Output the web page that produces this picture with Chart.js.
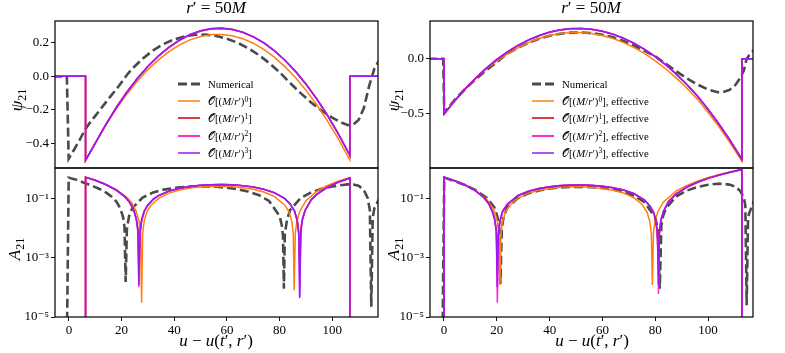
<!DOCTYPE html>
<html lang="en">
<head>
<meta charset="UTF-8">
<title>psi21 / A21 at r' = 50M</title>
<script src="https://cdn.jsdelivr.net/npm/chart.js"></script>
<style>
    body { margin: 0; background: #fff; color: #000; font-family: 'Liberation Serif', 'DejaVu Serif', serif; }
    #wrap { position: relative; width: 785px; height: 353px; overflow: hidden; }
    canvas { position: absolute; }
    .lbl { position: absolute; white-space: nowrap; transform: translate(-50%, -50%); font-size: 17px; }
    .ylab { transform: translate(-50%, -50%) rotate(-90deg); }
    .legend { position: absolute; font-size: 10.8px; }
    .row { position: absolute; left: 0; height: 14px; white-space: nowrap; }
    .row svg { position: absolute; left: 0; top: 4px; }
    .row span { position: absolute; left: 30px; top: 0; line-height: 14px; }
    .cal { font-family: 'DejaVu Serif', 'DejaVu Sans', serif; font-style: normal; }
    sup { font-size: 70%; vertical-align: 0; position: relative; top: -0.45em; }
    sub { font-size: 70%; vertical-align: 0; position: relative; top: 0.3em; }
</style>
</head>
<body>
<div id="wrap">
    <canvas id="psiL" width="385" height="170" style="left:0;top:0"></canvas>
    <canvas id="ampL" width="385" height="193" style="left:0;top:160px"></canvas>
    <canvas id="psiR" width="400" height="170" style="left:385px;top:0"></canvas>
    <canvas id="ampR" width="400" height="193" style="left:385px;top:160px"></canvas>

    <div class="lbl" style="left:216px;top:8px"><i>r</i>′ = 50<i>M</i></div>
    <div class="lbl" style="left:591px;top:8px"><i>r</i>′ = 50<i>M</i></div>
    <div class="lbl" style="left:216px;top:341px"><i>u</i> − <i>u</i>(<i>t</i>′, <i>r</i>′)</div>
    <div class="lbl" style="left:592px;top:341px"><i>u</i> − <i>u</i>(<i>t</i>′, <i>r</i>′)</div>
    <div class="lbl ylab" style="left:17px;top:100px"><i>ψ</i><sub>21</sub></div>
    <div class="lbl ylab" style="left:394px;top:100px"><i>ψ</i><sub>21</sub></div>
    <div class="lbl ylab" style="left:15px;top:249px"><i>A</i><sub>21</sub></div>
    <div class="lbl ylab" style="left:394px;top:249px"><i>A</i><sub>21</sub></div>

    <div class="legend" style="left:178px;top:77px">
        <div class="row" style="top:0"><svg width="24" height="6"><line x1="0" y1="3" x2="22" y2="3" stroke="#4a4a4a" stroke-width="2.8" stroke-dasharray="9 4"/></svg><span>Numerical</span></div>
        <div class="row" style="top:17.2px"><svg width="24" height="6"><line x1="0" y1="3" x2="22" y2="3" stroke="#ff7f0e" stroke-width="1.5"/></svg><span><span class="cal" style="position:static">𝒪</span>[(<i>M</i>/<i>r</i>′)<sup>0</sup>]</span></div>
        <div class="row" style="top:34.4px"><svg width="24" height="6"><line x1="0" y1="3" x2="22" y2="3" stroke="#c80000" stroke-width="1.5"/></svg><span><span class="cal" style="position:static">𝒪</span>[(<i>M</i>/<i>r</i>′)<sup>1</sup>]</span></div>
        <div class="row" style="top:51.6px"><svg width="24" height="6"><line x1="0" y1="3" x2="22" y2="3" stroke="#ff2ad0" stroke-width="2"/></svg><span><span class="cal" style="position:static">𝒪</span>[(<i>M</i>/<i>r</i>′)<sup>2</sup>]</span></div>
        <div class="row" style="top:68.8px"><svg width="24" height="6"><line x1="0" y1="3" x2="22" y2="3" stroke="#9b19f0" stroke-width="1.5"/></svg><span><span class="cal" style="position:static">𝒪</span>[(<i>M</i>/<i>r</i>′)<sup>3</sup>]</span></div>
    </div>
    <div class="legend" style="left:532px;top:77px">
        <div class="row" style="top:0"><svg width="24" height="6"><line x1="0" y1="3" x2="22" y2="3" stroke="#4a4a4a" stroke-width="2.8" stroke-dasharray="9 4"/></svg><span>Numerical</span></div>
        <div class="row" style="top:17.2px"><svg width="24" height="6"><line x1="0" y1="3" x2="22" y2="3" stroke="#ff7f0e" stroke-width="1.5"/></svg><span><span class="cal" style="position:static">𝒪</span>[(<i>M</i>/<i>r</i>′)<sup>0</sup>], effective</span></div>
        <div class="row" style="top:34.4px"><svg width="24" height="6"><line x1="0" y1="3" x2="22" y2="3" stroke="#c80000" stroke-width="1.5"/></svg><span><span class="cal" style="position:static">𝒪</span>[(<i>M</i>/<i>r</i>′)<sup>1</sup>], effective</span></div>
        <div class="row" style="top:51.6px"><svg width="24" height="6"><line x1="0" y1="3" x2="22" y2="3" stroke="#ff2ad0" stroke-width="2"/></svg><span><span class="cal" style="position:static">𝒪</span>[(<i>M</i>/<i>r</i>′)<sup>2</sup>], effective</span></div>
        <div class="row" style="top:68.8px"><svg width="24" height="6"><line x1="0" y1="3" x2="22" y2="3" stroke="#9b19f0" stroke-width="1.5"/></svg><span><span class="cal" style="position:static">𝒪</span>[(<i>M</i>/<i>r</i>′)<sup>3</sup>], effective</span></div>
    </div>
</div>

<script>
    // ---- axis ticks ----
    const uTicks = [0, 20, 40, 60, 80, 100];
    const psiTicksL = [-0.4, -0.2, 0, 0.2];
    const psiTickLabelsL = ['−0.4', '−0.2', '0.0', '0.2'];
    const psiTicksR = [-0.5, 0];
    const psiTickLabelsR = ['−0.5', '0.0'];
    const ampTicks = [1e-5, 1e-3, 1e-1];
    const ampTickLabels = ['10⁻⁵', '10⁻³', '10⁻¹'];

    // ---- left column: O[(M/r')^n] ----
    const uNumPsiL = [-6, -0.8, -0.1, 2, 4, 6, 8, 10, 12, 14, 16, 18, 20, 22, 24, 28, 32, 36, 40, 44, 48, 52, 56, 60, 64, 68, 72, 76, 80, 84, 88, 92, 96, 100, 103, 106, 108, 110, 112, 114, 116, 118];
    const psiNumL = [0, 0, -0.49, -0.435, -0.38, -0.32, -0.275, -0.235, -0.195, -0.155, -0.115, -0.077, -0.035, 0.008, 0.045, 0.105, 0.155, 0.193, 0.220, 0.238, 0.247, 0.248, 0.240, 0.224, 0.200, 0.168, 0.128, 0.080, 0.025, -0.040, -0.100, -0.155, -0.205, -0.245, -0.272, -0.290, -0.287, -0.260, -0.190, -0.060, 0.045, 0.100];

    const uAnaPsiL = [-6, 6.3, 6.3, 10, 14, 18, 22, 26, 30, 34, 38, 42, 46, 50, 54, 58, 62, 66, 70, 74, 78, 82, 86, 90, 94, 98, 102, 106.7, 106.7, 118];
    const psiO0L = [0, 0, -0.50, -0.396, -0.289, -0.193, -0.106, -0.028, 0.040, 0.098, 0.147, 0.187, 0.217, 0.237, 0.248, 0.249, 0.241, 0.224, 0.197, 0.160, 0.114, 0.058, -0.007, -0.082, -0.166, -0.260, -0.363, -0.496, 0, 0];
    const psiO1L = [0, 0, -0.50, -0.398, -0.288, -0.186, -0.095, -0.013, 0.058, 0.120, 0.172, 0.214, 0.247, 0.269, 0.282, 0.285, 0.279, 0.262, 0.235, 0.199, 0.152, 0.096, 0.030, -0.046, -0.132, -0.227, -0.334, -0.470, 0, 0];
    const psiO2L = [0, 0, -0.50, -0.397, -0.287, -0.185, -0.094, -0.012, 0.059, 0.121, 0.173, 0.215, 0.248, 0.270, 0.283, 0.286, 0.279, 0.262, 0.235, 0.199, 0.152, 0.096, 0.030, -0.046, -0.132, -0.227, -0.333, -0.469, 0, 0];
    const psiO3L = [0, 0, -0.50, -0.397, -0.286, -0.184, -0.093, -0.011, 0.060, 0.122, 0.174, 0.216, 0.249, 0.271, 0.284, 0.287, 0.280, 0.263, 0.236, 0.200, 0.153, 0.097, 0.031, -0.045, -0.131, -0.226, -0.332, -0.468, 0, 0];

    const uNumAmpL = [-0.8, -0.1, 2, 4, 6, 8, 10, 12, 14, 16, 18, 19.5, 20.5, 21.1, 21.55, 22, 22.8, 24, 28, 32, 36, 40, 44, 48, 52, 56, 60, 64, 68, 72, 76, 80, 80.8, 81.3, 81.65, 82, 82.8, 84, 88, 92, 96, 100, 103, 106, 108, 110, 112, 113.5, 114.3, 114.85, 115.4, 116, 118];
    const ampNumL = [1e-6, 0.49, 0.435, 0.38, 0.32, 0.275, 0.235, 0.195, 0.155, 0.115, 0.077, 0.045, 0.024, 0.011, 1.5e-4, 0.009, 0.024, 0.045, 0.105, 0.155, 0.193, 0.220, 0.238, 0.247, 0.248, 0.240, 0.224, 0.200, 0.168, 0.128, 0.080, 0.025, 0.013, 0.0055, 9e-5, 0.006, 0.018, 0.040, 0.100, 0.155, 0.205, 0.245, 0.272, 0.290, 0.287, 0.260, 0.190, 0.100, 0.040, 2.2e-5, 0.022, 0.045, 0.100];

    const uO0AmpL = [6.3, 6.3, 10, 14, 18, 22, 24, 25.6, 26.6, 27.2, 27.6, 28, 28.6, 29.6, 31, 34, 38, 42, 46, 50, 54, 58, 62, 66, 70, 74, 78, 82, 83.6, 84.6, 85.2, 85.55, 86, 86.6, 87.6, 90, 94, 98, 102, 106.7, 106.7];
    const ampO0L = [1e-6, 0.50, 0.396, 0.289, 0.193, 0.106, 0.066, 0.0345, 0.0172, 0.0069, 3e-5, 0.0069, 0.0172, 0.0345, 0.055, 0.098, 0.147, 0.187, 0.217, 0.237, 0.248, 0.249, 0.241, 0.224, 0.197, 0.160, 0.114, 0.058, 0.0345, 0.0172, 0.0069, 8e-5, 0.0069, 0.0172, 0.0345, 0.082, 0.166, 0.260, 0.363, 0.496, 1e-6];

    const uO3AmpL = [6.3, 6.3, 10, 14, 18, 21, 23, 24.6, 25.6, 26.2, 26.55, 27, 27.6, 28.6, 30, 32, 34, 38, 42, 46, 50, 54, 58, 62, 66, 70, 74, 78, 82, 84, 85.7, 86.7, 87.3, 87.65, 88.1, 88.7, 89.7, 92, 94, 98, 102, 106.7, 106.7];
    const ampO1L = [1e-6, 0.50, 0.398, 0.288, 0.186, 0.117, 0.074, 0.041, 0.0205, 0.0092, 9e-4, 0.0060, 0.0170, 0.0355, 0.058, 0.090, 0.120, 0.172, 0.214, 0.247, 0.269, 0.282, 0.285, 0.279, 0.262, 0.235, 0.199, 0.152, 0.096, 0.064, 0.036, 0.0170, 0.0058, 9e-4, 0.0092, 0.0205, 0.039, 0.0875, 0.132, 0.227, 0.334, 0.470, 1e-6];
    const ampO2L = [1e-6, 0.50, 0.397, 0.287, 0.185, 0.116, 0.073, 0.040, 0.0195, 0.0082, 1e-4, 0.0068, 0.0180, 0.0366, 0.059, 0.091, 0.121, 0.173, 0.215, 0.248, 0.270, 0.283, 0.286, 0.279, 0.262, 0.235, 0.199, 0.152, 0.096, 0.064, 0.037, 0.018, 0.0068, 5e-5, 0.0082, 0.0195, 0.0385, 0.087, 0.132, 0.227, 0.333, 0.469, 1e-6];
    const ampO3L = [1e-6, 0.50, 0.397, 0.286, 0.184, 0.115, 0.072, 0.039, 0.0188, 0.0075, 1.2e-4, 0.0075, 0.0188, 0.0376, 0.060, 0.092, 0.122, 0.174, 0.216, 0.249, 0.271, 0.284, 0.287, 0.280, 0.263, 0.236, 0.200, 0.153, 0.097, 0.065, 0.0376, 0.0188, 0.0075, 4.4e-5, 0.0075, 0.0188, 0.0376, 0.0865, 0.131, 0.226, 0.332, 0.468, 1e-6];

    // ---- right column: O[(M/r')^n], effective ----
    const uNumPsiR = [-6, -0.3, 0.1, 4, 8, 12, 16, 20, 24, 28, 32, 36, 40, 44, 48, 52, 56, 60, 64, 68, 72, 76, 80, 84, 88, 92, 96, 100, 103.7, 106, 108, 110, 112, 113.5, 114.6, 115.5, 117.5];
    const psiNumR = [0, 0, -0.49, -0.375, -0.275, -0.185, -0.105, -0.030, 0.048, 0.100, 0.145, 0.182, 0.210, 0.228, 0.238, 0.240, 0.233, 0.218, 0.195, 0.162, 0.120, 0.072, 0.022, -0.045, -0.115, -0.180, -0.235, -0.280, -0.305, -0.300, -0.285, -0.250, -0.180, -0.110, 0, 0.030, 0.085];

    const uAnaPsiR = [-6, 0, 0, 4, 8, 12, 16, 20, 24, 28, 32, 36, 40, 44, 48, 52, 56, 60, 64, 68, 72, 76, 80, 84, 88, 92, 96, 100, 104, 108, 112.8, 112.8, 118];
    const psiO0R = [0, 0, -0.50, -0.38, -0.275, -0.178, -0.095, -0.021, 0.0445, 0.100, 0.147, 0.184, 0.212, 0.230, 0.240, 0.240, 0.231, 0.212, 0.185, 0.148, 0.1015, 0.046, -0.019, -0.093, -0.176, -0.2685, -0.370, -0.490, -0.615, -0.755, -0.934, 0, 0];
    const psiO1R = [0, 0, -0.505, -0.386, -0.276, -0.176, -0.087, -0.007, 0.061, 0.121, 0.170, 0.210, 0.241, 0.262, 0.273, 0.275, 0.267, 0.250, 0.223, 0.186, 0.140, 0.084, 0.019, -0.056, -0.141, -0.236, -0.342, -0.462, -0.592, -0.733, -0.916, 0, 0];
    const psiO2R = [0, 0, -0.505, -0.385, -0.275, -0.175, -0.086, -0.006, 0.062, 0.122, 0.171, 0.211, 0.242, 0.263, 0.274, 0.276, 0.268, 0.250, 0.223, 0.186, 0.140, 0.084, 0.019, -0.056, -0.141, -0.235, -0.341, -0.461, -0.591, -0.731, -0.914, 0, 0];
    const psiO3R = [0, 0, -0.505, -0.385, -0.275, -0.175, -0.085, -0.005, 0.063, 0.1225, 0.172, 0.212, 0.243, 0.2635, 0.275, 0.2765, 0.2686, 0.251, 0.224, 0.187, 0.141, 0.085, 0.020, -0.055, -0.140, -0.234, -0.340, -0.460, -0.590, -0.730, -0.913, 0, 0];

    const uNumAmpR = [-0.6, 0.1, 4, 8, 12, 16, 19, 20.2, 20.9, 21.35, 21.9, 22.6, 24, 28, 32, 36, 40, 44, 48, 52, 56, 60, 64, 68, 72, 76, 80, 80.9, 81.7, 82.3, 83, 84, 88, 92, 96, 100, 103.7, 106, 108, 110, 112, 113.5, 114.1, 114.6, 115.1, 115.5, 117.5];
    const ampNumR = [1e-6, 0.49, 0.375, 0.275, 0.185, 0.105, 0.050, 0.024, 0.010, 1.3e-4, 0.010, 0.024, 0.048, 0.100, 0.145, 0.182, 0.210, 0.228, 0.238, 0.240, 0.233, 0.218, 0.195, 0.162, 0.120, 0.072, 0.022, 0.0095, 9e-5, 0.012, 0.026, 0.045, 0.115, 0.180, 0.235, 0.280, 0.305, 0.300, 0.285, 0.250, 0.180, 0.110, 0.055, 2.5e-5, 0.016, 0.030, 0.085];

    const uO0AmpR = [0, 0, 4, 8, 12, 16, 18.5, 19.2, 20.2, 20.8, 21.2, 21.6, 22.2, 23.2, 25, 28, 32, 36, 40, 44, 48, 52, 56, 60, 64, 68, 72, 75, 76.9, 77.9, 78.5, 78.9, 79.3, 79.9, 80.9, 83, 88, 92, 96, 100, 104, 108, 112.8, 112.8];
    const ampO0R = [1e-6, 0.50, 0.38, 0.275, 0.178, 0.095, 0.047, 0.0334, 0.0167, 0.0067, 1.2e-4, 0.0067, 0.0167, 0.0334, 0.059, 0.100, 0.147, 0.184, 0.212, 0.230, 0.240, 0.240, 0.231, 0.212, 0.185, 0.148, 0.1015, 0.061, 0.0334, 0.0167, 0.0067, 1.2e-4, 0.0067, 0.0167, 0.0334, 0.073, 0.176, 0.2685, 0.370, 0.490, 0.615, 0.755, 0.934, 1e-6];

    const uO3AmpR = [0, 0, 4, 8, 12, 15, 17, 18.4, 19.2, 19.8, 20.2, 20.6, 21.2, 22.2, 24, 28, 32, 36, 40, 44, 48, 52, 56, 60, 64, 68, 72, 76, 78, 79.4, 80.2, 80.8, 81.2, 81.6, 82.2, 83.2, 85, 88, 92, 96, 100, 104, 108, 112.8, 112.8];
    const ampO1R = [1e-6, 0.505, 0.386, 0.276, 0.176, 0.107, 0.065, 0.035, 0.0200, 0.0090, 8e-4, 0.0056, 0.0166, 0.0350, 0.061, 0.121, 0.170, 0.210, 0.241, 0.262, 0.273, 0.275, 0.267, 0.250, 0.223, 0.186, 0.140, 0.084, 0.053, 0.032, 0.0172, 0.0062, 7e-4, 0.0085, 0.0195, 0.038, 0.077, 0.141, 0.236, 0.342, 0.462, 0.592, 0.733, 0.916, 1e-6];
    const ampO2R = [1e-6, 0.505, 0.385, 0.275, 0.175, 0.106, 0.064, 0.034, 0.019, 0.0080, 3e-5, 0.0066, 0.0176, 0.036, 0.062, 0.122, 0.171, 0.211, 0.242, 0.263, 0.274, 0.276, 0.268, 0.250, 0.223, 0.186, 0.140, 0.084, 0.053, 0.032, 0.0178, 0.0068, 6e-5, 0.0078, 0.0188, 0.0372, 0.076, 0.141, 0.235, 0.341, 0.461, 0.591, 0.731, 0.914, 1e-6];
    const ampO3R = [1e-6, 0.505, 0.385, 0.275, 0.175, 0.105, 0.063, 0.033, 0.0183, 0.0073, 1e-4, 0.0073, 0.0183, 0.0366, 0.063, 0.1225, 0.172, 0.212, 0.243, 0.2635, 0.275, 0.2765, 0.2686, 0.251, 0.224, 0.187, 0.141, 0.085, 0.054, 0.033, 0.0183, 0.0073, 1.2e-4, 0.0073, 0.0183, 0.0366, 0.075, 0.140, 0.234, 0.340, 0.460, 0.590, 0.730, 0.913, 1e-6];

    // ---- styling ----
    const tickFont = { family: "'Liberation Serif', 'DejaVu Serif', serif", size: 13 };
    const styleNum = { borderColor: '#4a4a4a', borderWidth: 2.6, borderDash: [9, 4] };
    const styleO0 = { borderColor: '#ff7f0e', borderWidth: 1.5 };
    const styleO1 = { borderColor: '#c80000', borderWidth: 1.5 };
    const styleO2 = { borderColor: '#ff2ad0', borderWidth: 1.5 };
    const styleO3 = { borderColor: '#9b19f0', borderWidth: 1.5 };

    // black box around each plot area
    const framePlugin = {
        id: 'frame',
        afterDatasetsDraw(chart) {
            const a = chart.chartArea, ctx = chart.ctx;
            ctx.save();
            ctx.strokeStyle = '#111';
            ctx.lineWidth = 1.3;
            ctx.strokeRect(a.left, a.top, a.right - a.left, a.bottom - a.top);
            ctx.restore();
        }
    };

    function series(u, v, style) {
        return Object.assign({
            data: u.map((x, i) => ({ x: x, y: v[i] })),
            pointRadius: 0, tension: 0, fill: false
        }, style);
    }

    function fixedTicks(values, labels) {
        return {
            afterBuildTicks: s => { s.ticks = values.map(v => ({ value: v })); },
            callback: v => labels ? labels[values.indexOf(v)] : String(v)
        };
    }

    function makePanel(id, datasets, o) {
        const yt = fixedTicks(o.yTicks, o.yLabels);
        const xt = fixedTicks(uTicks, null);
        new Chart(document.getElementById(id), {
            type: 'line',
            data: { datasets: datasets },
            options: {
                responsive: false,
                animation: false,
                events: [],
                layout: { padding: { left: 0, top: o.padTop, right: o.padRight, bottom: o.padBottom } },
                plugins: { legend: { display: false }, tooltip: { enabled: false } },
                scales: {
                    x: {
                        type: 'linear', min: o.xMin, max: o.xMax, display: o.showX,
                        afterBuildTicks: xt.afterBuildTicks,
                        afterFit: s => { s.height = o.showX ? 36 : 0; s.paddingLeft = 0; s.paddingRight = 0; },
                        ticks: { callback: xt.callback, font: tickFont, color: '#000', padding: 2, maxRotation: 0, autoSkip: false },
                        grid: { drawOnChartArea: false, tickLength: 4, color: '#111' },
                        border: { display: false }
                    },
                    y: {
                        type: o.yType, min: o.yMin, max: o.yMax,
                        afterBuildTicks: yt.afterBuildTicks,
                        afterFit: s => { s.width = o.yWidth; s.paddingTop = 0; s.paddingBottom = 0; },
                        ticks: { callback: yt.callback, font: tickFont, color: '#000', padding: 2, autoSkip: false },
                        grid: { drawOnChartArea: false, tickLength: 4, color: '#111' },
                        border: { display: false }
                    }
                }
            },
            plugins: [framePlugin]
        });
    }

    const left = { xMin: -5.3, xMax: 117.4, yWidth: 55, padRight: 7 };
    const right = { xMin: -5.3, xMax: 117.0, yWidth: 45, padRight: 32 };

    makePanel('psiL', [
        series(uAnaPsiL, psiO3L, styleO3),
        series(uAnaPsiL, psiO2L, styleO2),
        series(uAnaPsiL, psiO1L, styleO1),
        series(uAnaPsiL, psiO0L, styleO0),
        series(uNumPsiL, psiNumL, styleNum)
    ], Object.assign({}, left, { showX: false, padTop: 21, padBottom: 2, yType: 'linear', yMin: -0.545, yMax: 0.329, yTicks: psiTicksL, yLabels: psiTickLabelsL }));

    makePanel('ampL', [
        series(uO3AmpL, ampO3L, styleO3),
        series(uO3AmpL, ampO2L, styleO2),
        series(uO3AmpL, ampO1L, styleO1),
        series(uO0AmpL, ampO0L, styleO0),
        series(uNumAmpL, ampNumL, styleNum)
    ], Object.assign({}, left, { showX: true, padTop: 8, padBottom: 0, yType: 'logarithmic', yMin: 1e-5, yMax: 1.03, yTicks: ampTicks, yLabels: ampTickLabels }));

    makePanel('psiR', [
        series(uAnaPsiR, psiO3R, styleO3),
        series(uAnaPsiR, psiO2R, styleO2),
        series(uAnaPsiR, psiO1R, styleO1),
        series(uAnaPsiR, psiO0R, styleO0),
        series(uNumPsiR, psiNumR, styleNum)
    ], Object.assign({}, right, { showX: false, padTop: 21, padBottom: 2, yType: 'linear', yMin: -0.995, yMax: 0.344, yTicks: psiTicksR, yLabels: psiTickLabelsR }));

    makePanel('ampR', [
        series(uO3AmpR, ampO3R, styleO3),
        series(uO3AmpR, ampO2R, styleO2),
        series(uO3AmpR, ampO1R, styleO1),
        series(uO0AmpR, ampO0R, styleO0),
        series(uNumAmpR, ampNumR, styleNum)
    ], Object.assign({}, right, { showX: true, padTop: 8, padBottom: 0, yType: 'logarithmic', yMin: 1e-5, yMax: 1.03, yTicks: ampTicks, yLabels: ampTickLabels }));
</script>
</body>
</html>
